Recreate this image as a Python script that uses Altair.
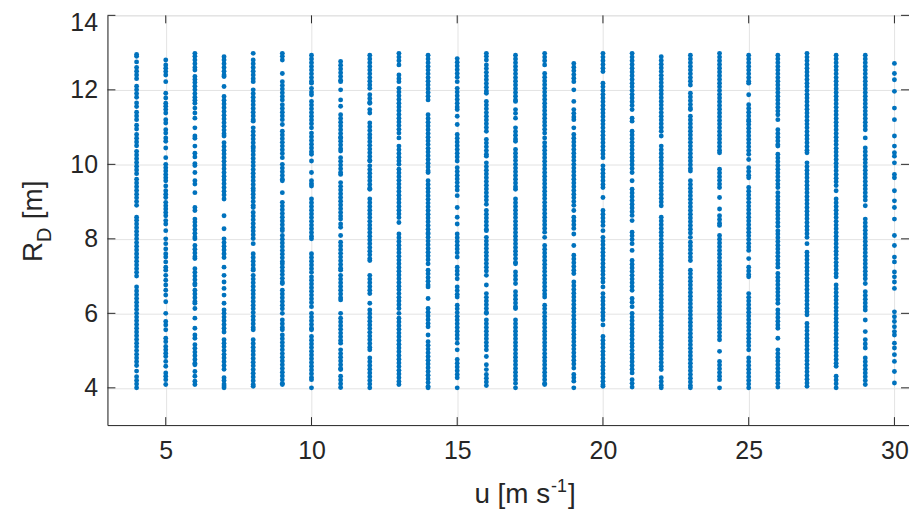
import altair as alt
import pandas as pd

# Wind speed columns u [m/s] and the R_D values [m] read for each column
R_by_u = {
    4: [12.95,12.9,12.75,12.6,12.5,12.4,12.3,12.1,12.0,11.9,11.8,11.65,11.55,11.4,11.3,11.2,11.05,10.95,10.8,10.7,10.6,10.5,10.35,10.25,10.15,10.05,9.95,9.85,9.75,9.6,9.5,9.4,9.3,9.2,9.1,9.0,8.9,
        8.58,8.5,8.4,8.3,8.2,8.1,8.0,7.9,7.8,7.7,7.6,7.5,7.4,7.3,7.2,7.1,7.0,
        6.71,6.6,6.5,6.4,6.3,6.2,6.1,6.0,5.9,5.8,5.7,5.6,5.5,5.4,5.3,5.2,5.1,5.0,4.9,4.8,4.7,4.6,4.45,4.3,4.2,4.1,4.0],
    5: [12.8,12.67,12.58,12.49,12.4,12.22,11.91,11.78,11.64,11.56,11.47,11.38,11.2,11.11,10.93,10.84,10.71,10.62,10.44,10.18,10.0,9.91,9.82,9.73,9.64,9.56,9.42,9.29,9.2,9.11,8.98,8.89,8.8,8.71,8.62,8.49,8.4,8.22,
        8.0,7.87,7.73,7.6,7.51,7.38,7.24,7.16,7.02,6.89,6.76,6.62,6.49,6.31,6.0,5.78,5.69,5.56,5.33,5.24,5.11,5.02,4.93,4.84,4.71,4.58,4.4,4.31,4.22,4.09],
    6: [12.98,12.9,12.8,12.7,12.6,12.53,12.36,12.28,12.2,12.1,12.0,11.9,11.8,11.72,11.64,11.51,11.38,11.24,10.98,10.76,10.7,10.49,10.3,10.2,10.02,9.97,9.78,9.56,9.47,9.24,8.84,8.76,
        8.53,8.45,8.35,8.25,8.15,8.05,8.0,7.82,7.72,7.62,7.52,7.47,7.2,7.1,7.0,6.9,6.8,6.76,6.62,6.52,6.42,6.32,6.27,6.13,5.87,5.6,5.42,5.33,5.16,5.06,4.96,4.86,4.76,4.66,4.62,4.44,4.31,4.18,4.09],
    7: [12.89,12.8,12.7,12.6,12.5,12.4,12.36,12.09,11.82,11.72,11.62,11.52,11.42,11.32,11.22,11.12,11.02,10.92,10.82,10.76,10.58,10.48,10.38,10.28,10.18,10.08,9.98,9.88,9.78,9.68,9.58,9.48,9.38,9.28,9.18,9.07,
        8.62,8.27,8.0,7.9,7.8,7.7,7.6,7.5,7.24,7.02,6.84,6.67,6.49,6.27,6.09,6.0,5.9,5.8,5.7,5.6,5.5,5.29,5.2,5.1,5.0,4.9,4.8,4.7,4.6,4.5,4.27,4.2,4.1,4.05,4.0],
    8: [12.98,12.8,12.7,12.6,12.5,12.4,12.3,12.22,12.0,11.9,11.8,11.7,11.6,11.5,11.4,11.3,11.2,11.16,10.98,10.88,10.78,10.68,10.58,10.48,10.44,10.36,10.26,10.16,10.06,9.96,9.86,9.76,9.66,9.56,9.46,9.36,9.29,
        9.2,9.1,9.0,8.9,8.84,8.71,8.61,8.51,8.41,8.31,8.21,8.11,8.01,7.87,7.6,7.5,7.4,7.3,7.2,7.16,7.02,6.92,6.82,6.72,6.62,6.52,6.42,6.32,6.22,6.12,6.02,5.92,5.82,5.72,5.62,5.56,
        5.29,5.19,5.09,4.99,4.89,4.79,4.69,4.59,4.49,4.39,4.29,4.19,4.09,4.04],
    9: [12.98,12.9,12.8,12.44,12.22,12.12,12.02,11.92,11.82,11.73,11.6,11.5,11.4,11.3,11.2,11.07,10.89,10.79,10.69,10.59,10.49,10.39,10.29,10.18,10.0,9.9,9.8,9.7,9.6,9.56,9.24,
        8.98,8.88,8.78,8.68,8.58,8.48,8.38,8.28,8.22,8.09,7.99,7.89,7.79,7.69,7.59,7.49,7.39,7.33,7.24,7.14,7.04,6.94,6.84,6.8,6.62,6.52,6.42,6.32,6.22,6.12,6.0,5.82,5.72,5.62,5.56,
        5.42,5.32,5.22,5.12,5.02,4.92,4.82,4.72,4.62,4.52,4.42,4.32,4.22,4.12,4.09],
    10: [12.93,12.83,12.73,12.63,12.53,12.43,12.33,12.23,12.18,12.04,11.94,11.87,11.69,11.59,11.49,11.39,11.29,11.19,11.09,10.98,10.84,10.74,10.64,10.54,10.44,10.34,10.27,10.09,9.78,9.56,9.48,9.42,
         9.07,8.97,8.87,8.77,8.67,8.57,8.47,8.37,8.27,8.17,8.07,8.0,7.6,7.5,7.4,7.3,7.2,7.1,6.98,6.89,6.79,6.69,6.59,6.49,6.39,6.29,6.18,6.0,5.9,5.8,5.7,5.6,5.56,
         5.38,5.28,5.18,5.08,4.98,4.88,4.78,4.68,4.58,4.48,4.38,4.28,4.22,4.0],
    11: [12.76,12.66,12.56,12.46,12.36,12.26,12.22,12.0,11.73,11.56,11.33,11.23,11.13,11.03,10.93,10.83,10.73,10.71,10.62,10.52,10.42,10.36,10.18,10.08,9.98,9.88,9.78,9.73,
         9.51,9.41,9.31,9.21,9.11,9.01,8.91,8.81,8.71,8.61,8.53,8.4,8.31,8.09,7.91,7.81,7.71,7.61,7.51,7.41,7.31,7.21,7.16,7.02,6.92,6.82,6.72,6.62,6.52,6.42,6.36,6.0,
         5.87,5.77,5.67,5.57,5.47,5.37,5.27,5.2,5.02,4.92,4.82,4.72,4.62,4.52,4.49,4.31,4.21,4.11,4.01],
    12: [12.93,12.83,12.73,12.63,12.53,12.43,12.33,12.23,12.13,12.04,11.87,11.77,11.67,11.64,11.47,11.38,11.11,11.01,10.91,10.8,10.71,10.61,10.51,10.41,10.31,10.21,10.11,10.09,9.96,9.86,9.76,9.66,9.56,9.46,9.36,9.33,
         9.07,8.97,8.87,8.77,8.67,8.57,8.47,8.37,8.27,8.17,8.07,7.97,7.87,7.77,7.67,7.57,7.47,7.42,7.02,6.92,6.82,6.72,6.62,6.53,6.27,
         6.09,5.99,5.89,5.79,5.69,5.59,5.49,5.39,5.29,5.19,5.09,5.02,4.8,4.7,4.6,4.5,4.4,4.3,4.2,4.1,4.0],
    13: [12.98,12.88,12.78,12.67,12.4,12.3,12.22,12.04,11.94,11.84,11.74,11.64,11.54,11.44,11.34,11.24,11.14,11.04,10.94,10.84,10.71,10.49,10.39,10.29,10.19,10.09,10.0,
         9.87,9.77,9.67,9.57,9.47,9.37,9.27,9.17,9.07,8.97,8.87,8.77,8.67,8.57,8.44,8.13,8.03,7.93,7.83,7.73,7.63,7.53,7.43,7.33,7.23,7.13,7.03,6.93,6.83,6.73,6.63,6.53,6.43,6.33,6.23,6.13,6.0,
         5.87,5.77,5.67,5.57,5.47,5.37,5.27,5.17,5.07,4.97,4.87,4.77,4.67,4.57,4.47,4.37,4.27,4.17,4.09],
    14: [12.93,12.83,12.73,12.63,12.53,12.43,12.33,12.23,12.13,12.03,11.93,11.83,11.73,11.33,11.23,11.13,11.03,10.93,10.83,10.73,10.63,10.53,10.43,10.33,10.23,10.13,10.03,9.93,9.83,9.78,
         9.56,9.46,9.36,9.26,9.16,9.06,8.96,8.86,8.76,8.66,8.56,8.46,8.36,8.26,8.16,8.13,8.04,7.94,7.84,7.74,7.64,7.54,7.44,7.33,7.16,7.06,6.96,6.86,6.76,6.71,6.4,
         6.13,6.03,5.93,5.83,5.73,5.64,5.42,5.24,5.14,5.04,4.94,4.84,4.74,4.64,4.54,4.44,4.34,4.24,4.14,4.04,4.0],
    15: [12.84,12.74,12.64,12.54,12.44,12.34,12.22,12.04,11.94,11.84,11.74,11.64,11.54,11.47,11.29,11.07,10.8,10.7,10.6,10.5,10.4,10.3,10.2,10.09,9.91,9.81,9.71,9.61,9.51,9.41,9.31,9.16,
         8.84,8.58,8.4,8.13,8.03,7.93,7.83,7.73,7.63,7.51,7.24,7.14,7.04,6.93,6.71,6.61,6.51,6.44,6.22,6.12,6.02,5.92,5.82,5.72,5.62,5.52,5.42,5.32,5.2,5.02,
         4.76,4.66,4.56,4.46,4.36,4.27,4.0],
    16: [12.98,12.9,12.8,12.67,12.57,12.47,12.37,12.27,12.17,12.07,11.97,11.91,11.69,11.59,11.49,11.39,11.29,11.19,11.09,10.99,10.89,10.67,10.57,10.47,10.37,10.27,10.22,
         10.04,9.94,9.84,9.74,9.64,9.54,9.44,9.34,9.24,9.14,9.04,8.93,8.76,8.66,8.56,8.46,8.36,8.26,8.22,8.04,7.94,7.84,7.74,7.64,7.54,7.44,7.34,7.24,7.14,7.02,6.76,
         6.53,6.43,6.33,6.23,6.13,6.03,6.0,5.82,5.72,5.62,5.52,5.42,5.32,5.22,5.12,5.02,4.84,4.62,4.49,4.36,4.26,4.16,4.06],
    17: [12.93,12.83,12.73,12.63,12.53,12.43,12.33,12.23,12.13,12.03,11.93,11.83,11.73,11.69,11.47,11.37,11.24,10.98,10.88,10.78,10.68,10.62,10.4,10.3,10.2,10.1,10.0,9.9,9.8,9.7,9.6,9.5,9.4,9.33,
         9.07,8.97,8.87,8.77,8.67,8.57,8.47,8.37,8.27,8.17,8.07,7.97,7.87,7.77,7.67,7.57,7.47,7.37,7.33,7.11,7.01,6.91,6.8,6.58,6.48,6.38,6.28,6.18,6.13,
         5.82,5.72,5.62,5.52,5.42,5.32,5.22,5.12,5.02,4.92,4.82,4.72,4.62,4.52,4.42,4.32,4.22,4.12,4.0],
    18: [12.98,12.88,12.78,12.67,12.44,12.34,12.24,12.14,12.04,11.94,11.84,11.74,11.64,11.54,11.44,11.34,11.24,11.14,11.04,10.94,10.84,10.71,
         10.58,10.48,10.38,10.28,10.18,10.08,9.98,9.88,9.78,9.68,9.58,9.48,9.38,9.28,9.18,9.08,8.98,8.88,8.78,8.68,8.58,8.48,8.38,8.28,8.18,8.04,
         7.82,7.72,7.62,7.52,7.42,7.32,7.22,7.12,7.02,6.92,6.82,6.72,6.62,6.52,6.44,6.22,6.12,6.02,5.92,5.82,5.72,5.62,5.52,5.42,5.32,5.22,5.12,5.02,4.92,4.82,4.72,4.62,4.52,4.42,4.32,4.22,4.12,4.09],
    19: [12.71,12.61,12.51,12.41,12.31,12.22,12.0,11.69,11.47,11.37,11.27,11.2,10.98,10.8,10.7,10.6,10.5,10.4,10.3,10.2,10.1,10.0,9.9,9.8,9.7,9.6,9.5,9.4,9.3,9.2,9.1,9.0,8.9,8.76,
         8.58,8.48,8.38,8.28,8.13,7.82,7.56,7.46,7.36,7.26,7.16,7.07,6.84,6.74,6.64,6.54,6.44,6.34,6.24,6.14,6.04,5.94,5.84,5.74,5.64,5.54,5.44,5.34,5.24,5.14,5.04,4.94,4.84,4.74,4.64,4.53,
         4.36,4.27,4.18,4.0],
    20: [12.98,12.88,12.78,12.68,12.58,12.49,12.18,12.08,11.98,11.88,11.78,11.68,11.58,11.48,11.38,11.28,11.18,11.08,10.98,10.88,10.78,10.68,10.58,10.48,10.38,10.28,10.18,
         9.96,9.86,9.76,9.66,9.56,9.46,9.38,9.11,8.76,8.66,8.56,8.46,8.36,8.22,8.04,7.94,7.84,7.74,7.64,7.54,7.44,7.34,7.24,7.14,7.04,6.94,6.84,6.71,
         6.53,6.43,6.33,6.23,6.13,6.03,5.93,5.83,5.69,5.38,5.28,5.18,5.08,4.98,4.88,4.78,4.68,4.58,4.48,4.38,4.28,4.18,4.08,4.04],
    21: [12.98,12.88,12.78,12.68,12.58,12.48,12.38,12.28,12.18,12.08,11.98,11.88,11.78,11.68,11.58,11.47,11.24,11.16,10.89,10.79,10.69,10.59,10.49,10.39,10.29,10.19,10.09,9.99,9.89,9.78,
         9.56,9.33,9.23,9.13,9.03,8.93,8.83,8.73,8.63,8.49,8.18,8.08,7.98,7.87,7.69,7.42,7.32,7.22,7.12,7.02,6.92,6.82,6.72,6.62,6.4,6.3,6.18,
         6.0,5.9,5.8,5.7,5.6,5.5,5.4,5.3,5.2,5.1,5.0,4.9,4.8,4.7,4.6,4.5,4.4,4.22,4.12,4.02],
    22: [12.89,12.79,12.69,12.59,12.49,12.39,12.29,12.19,12.09,11.99,11.89,11.79,11.69,11.59,11.49,11.39,11.29,11.19,11.09,10.99,10.89,10.76,
         10.49,10.39,10.29,10.19,10.09,9.99,9.89,9.79,9.69,9.59,9.49,9.39,9.29,9.19,9.09,8.99,8.89,
         8.58,8.48,8.38,8.28,8.18,8.08,7.98,7.88,7.78,7.68,7.58,7.48,7.38,7.28,7.18,7.08,6.98,6.88,6.78,6.68,6.58,6.48,6.38,6.28,6.18,6.08,5.98,5.88,5.78,5.68,5.58,5.48,5.38,5.28,5.18,5.08,4.98,4.88,4.78,4.68,4.58,4.49,
         4.27,4.17,4.07,4.0],
    23: [12.93,12.83,12.73,12.63,12.53,12.43,12.33,12.23,12.13,11.91,11.81,11.71,11.61,11.51,11.47,11.29,11.19,11.09,10.99,10.89,10.79,10.69,10.59,10.49,10.39,10.29,10.19,10.09,9.99,9.89,9.82,
         9.56,9.46,9.36,9.26,9.16,9.06,8.96,8.86,8.76,8.66,8.56,8.46,8.36,8.26,8.16,8.04,7.91,7.81,7.71,7.61,7.51,7.42,
         7.16,7.06,6.96,6.86,6.76,6.66,6.56,6.46,6.36,6.26,6.16,6.06,5.96,5.86,5.76,5.66,5.56,5.46,5.36,5.26,5.16,5.06,4.96,4.86,4.76,4.66,4.56,4.46,4.36,4.26,4.16,4.06,4.0],
    24: [12.98,12.88,12.78,12.68,12.58,12.48,12.38,12.28,12.18,12.08,11.98,11.88,11.78,11.68,11.58,11.48,11.38,11.28,11.18,11.08,10.98,10.88,10.78,10.68,10.58,10.48,10.38,10.31,
         9.87,9.77,9.67,9.57,9.47,9.38,9.11,8.8,8.62,8.52,8.42,8.36,
         8.09,7.99,7.89,7.79,7.69,7.59,7.49,7.39,7.29,7.19,7.09,6.99,6.89,6.79,6.69,6.59,6.49,6.39,6.29,6.19,6.09,5.99,5.89,5.79,5.69,5.59,5.49,5.39,5.29,
         4.98,4.71,4.61,4.51,4.41,4.31,4.22,4.0],
    25: [12.93,12.83,12.73,12.63,12.53,12.43,12.33,12.23,12.18,11.87,11.6,11.5,11.4,11.3,11.2,11.16,11.07,10.97,10.87,10.77,10.67,10.57,10.47,10.37,10.27,10.13,9.91,9.81,9.71,9.64,
         9.38,9.28,9.18,9.08,8.98,8.88,8.78,8.68,8.58,8.48,8.38,8.28,8.18,8.08,7.98,7.88,7.78,7.69,7.47,7.24,7.14,7.04,6.98,
         6.53,6.43,6.33,6.23,6.13,6.03,5.93,5.83,5.73,5.63,5.53,5.43,5.33,5.23,5.13,5.02,4.8,4.7,4.6,4.5,4.4,4.3,4.2,4.1,4.0],
    26: [12.93,12.83,12.73,12.63,12.53,12.43,12.33,12.23,12.13,12.03,11.93,11.83,11.73,11.63,11.53,11.43,11.33,11.2,10.93,10.83,10.73,10.63,10.53,10.49,
         10.27,10.17,10.07,9.97,9.87,9.77,9.67,9.57,9.47,9.38,9.24,9.14,9.04,8.94,8.84,8.74,8.64,8.54,8.44,8.34,8.22,
         8.13,8.03,7.93,7.83,7.73,7.63,7.53,7.43,7.33,7.24,7.07,6.97,6.87,6.77,6.67,6.57,6.47,6.37,6.27,6.09,5.99,5.89,5.79,5.69,5.6,5.33,
         5.02,4.92,4.82,4.72,4.62,4.52,4.42,4.32,4.22,4.12,4.02],
    27: [12.98,12.88,12.78,12.68,12.58,12.48,12.38,12.28,12.18,12.08,11.98,11.88,11.78,11.68,11.58,11.48,11.38,11.28,11.18,11.08,10.98,10.88,10.78,10.68,10.58,10.48,10.38,10.31,
         10.04,9.94,9.84,9.74,9.64,9.54,9.44,9.34,9.24,9.14,9.04,8.94,8.84,8.74,8.64,8.54,8.44,8.34,8.24,8.14,8.04,7.87,
         7.64,7.54,7.44,7.34,7.24,7.14,7.04,6.94,6.84,6.74,6.64,6.54,6.44,6.34,6.24,6.14,6.04,5.96,
         5.73,5.63,5.53,5.43,5.33,5.23,5.13,5.03,4.93,4.83,4.73,4.63,4.53,4.43,4.33,4.23,4.13,4.04],
    28: [12.93,12.83,12.73,12.63,12.53,12.43,12.33,12.23,12.13,12.03,11.93,11.83,11.73,11.63,11.53,11.43,11.33,11.23,11.13,11.03,10.93,10.83,10.73,10.63,10.53,10.43,10.33,10.23,10.13,10.03,9.93,9.83,9.73,9.63,9.53,9.43,9.29,
         9.07,8.97,8.87,8.77,8.67,8.57,8.47,8.37,8.27,8.17,8.07,7.97,7.87,7.77,7.67,7.57,7.47,7.37,7.27,7.17,7.07,6.98,
         6.76,6.66,6.56,6.46,6.36,6.26,6.16,6.06,5.96,5.86,5.76,5.66,5.56,5.46,5.36,5.26,5.16,5.06,4.96,4.86,4.76,4.66,4.58,4.31,4.21,4.11,4.0],
    29: [12.93,12.83,12.73,12.63,12.53,12.43,12.33,12.23,12.13,12.03,11.93,11.83,11.73,11.63,11.53,11.43,11.33,11.23,11.13,11.03,10.93,10.71,
         10.44,10.34,10.24,10.14,10.04,9.94,9.84,9.74,9.64,9.54,9.44,9.34,9.24,9.14,9.04,8.89,
         8.53,8.43,8.33,8.23,8.13,8.03,7.93,7.83,7.73,7.63,7.53,7.43,7.33,7.23,7.13,7.03,6.93,6.8,6.58,6.48,6.38,6.28,6.18,6.09,
         5.82,5.51,5.29,5.18,5.07,4.8,4.7,4.6,4.5,4.4,4.3,4.2,4.09],
    30: [12.71,12.44,12.27,11.96,11.51,11.2,10.76,10.49,10.31,10.22,10.04,9.73,9.64,9.29,9.02,8.84,8.53,8.09,7.82,7.51,7.38,7.11,6.98,6.84,6.67,
         6.04,5.91,5.78,5.64,5.51,5.42,5.2,5.07,4.89,4.71,4.44,4.13],
}

x_ticks = [5, 10, 15, 20, 25, 30]
y_ticks = [4, 6, 8, 10, 12, 14]

rows = [{"u": u, "R": r} for u, vals in R_by_u.items() for r in vals]
df = pd.DataFrame(rows)

W, H = 806, 412
INK = "#262626"
GRID = "#e3e3e3"
FONT = "Liberation Sans"
BLUE = "#0072BD"

xscale = alt.Scale(domain=[3, 30.5], nice=False, zero=False)
yscale = alt.Scale(domain=[3, 14], nice=False, zero=False)

xaxis = alt.Axis(values=x_ticks, grid=True, gridColor=GRID, gridWidth=1, tickSize=0,
                 labelFontSize=25, labelFont=FONT, labelColor=INK, labelPadding=14,
                 domainColor=INK, domainWidth=1, title=None, labelFlush=False)
yaxis = alt.Axis(values=y_ticks, grid=True, gridColor=GRID, gridWidth=1, tickSize=0,
                 labelFontSize=25, labelFont=FONT, labelColor=INK, labelPadding=10,
                 domainColor=INK, domainWidth=1, title=None, labelFlush=False,
                 labelOffset=alt.ExprRef("datum.value == 14 ? 7 : 0"))

points = alt.Chart(df).mark_circle(size=24, color=BLUE, opacity=1).encode(
    x=alt.X("u:Q", scale=xscale, axis=xaxis),
    y=alt.Y("R:Q", scale=yscale, axis=yaxis),
)

# inward tick marks (MATLAB style) on all four sides
xt = pd.DataFrame({"t": x_ticks})
yt = pd.DataFrame({"t": y_ticks})
TL = 8
tick_b = alt.Chart(xt).mark_rule(color=INK, strokeWidth=1).encode(
    x=alt.X("t:Q", scale=xscale), y=alt.value(H), y2=alt.value(H - TL))
tick_t = alt.Chart(xt).mark_rule(color=INK, strokeWidth=1).encode(
    x=alt.X("t:Q", scale=xscale), y=alt.value(0), y2=alt.value(TL))
tick_l = alt.Chart(yt).mark_rule(color=INK, strokeWidth=1).encode(
    y=alt.Y("t:Q", scale=yscale), x=alt.value(0), x2=alt.value(TL))
tick_r = alt.Chart(yt).mark_rule(color=INK, strokeWidth=1).encode(
    y=alt.Y("t:Q", scale=yscale), x=alt.value(W), x2=alt.value(W - TL))

one = pd.DataFrame({"k": [0]})

def label(txt, x, y, size, angle=0):
    return alt.Chart(one).mark_text(text=txt, font=FONT, fontSize=size, color=INK,
                                    align="left", baseline="alphabetic", angle=angle).encode(
        x=alt.value(x), y=alt.value(y))

# y title: R_D [m]
yt_R = label("R", -66, 248, 28, 270)
yt_D = label("D", -57, 227.8, 20, 270)
yt_m = label("[m]", -66, 205, 28, 270)
# x title: u [m s^-1]
xt_main = label("u [m s", 369, 490, 28)
xt_sup = label("-1", 446, 479, 18)
xt_end = label("]", 463, 490, 28)

chart = alt.layer(points, tick_b, tick_t, tick_l, tick_r,
                  yt_R, yt_D, yt_m, xt_main, xt_sup, xt_end).properties(
    width=W, height=H,
    autosize=alt.AutoSizeParams(type="none"),
    padding={"left": 100, "top": 6, "right": 0, "bottom": 86},
).configure_view(stroke=INK, strokeWidth=1).configure(background="white")

chart.save("out.html", embed_options={"renderer": "svg", "actions": False})
